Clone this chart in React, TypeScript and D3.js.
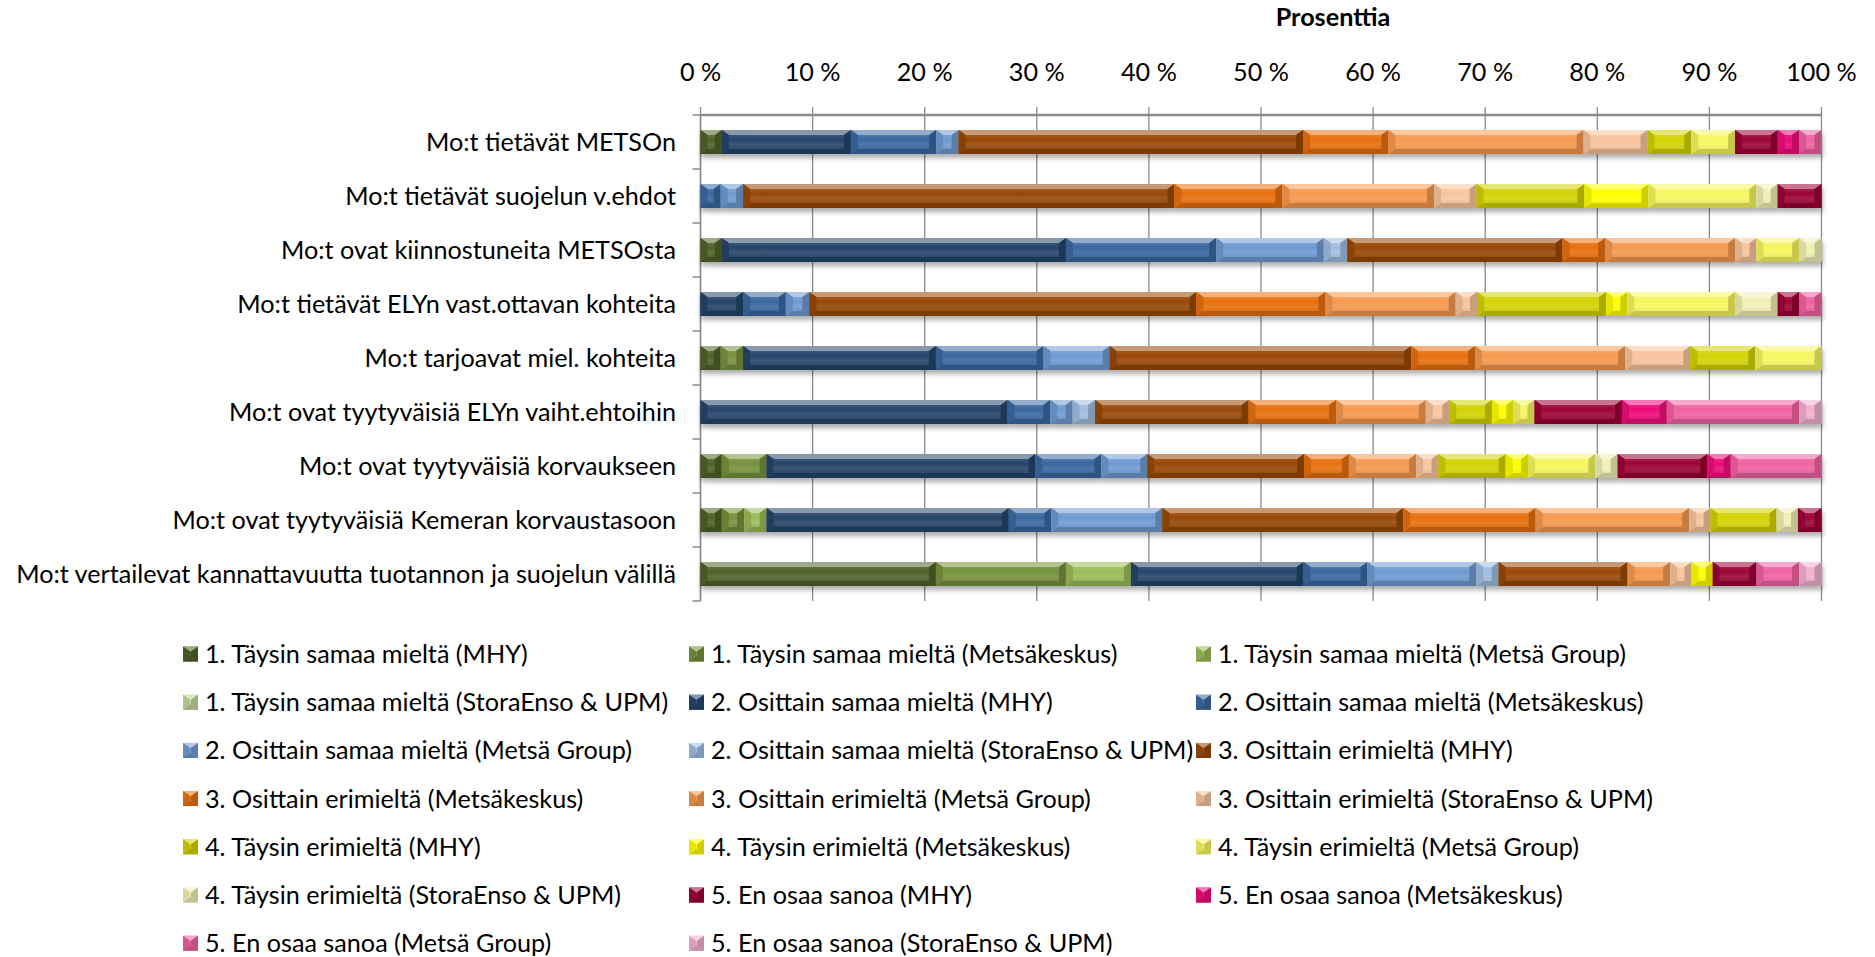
import * as d3 from "d3"
import { useEffect, useRef } from "react"

const categories = [
    "Mo:t tietävät METSOn",
    "Mo:t tietävät suojelun v.ehdot",
    "Mo:t ovat kiinnostuneita METSOsta",
    "Mo:t tietävät ELYn vast.ottavan kohteita",
    "Mo:t tarjoavat miel. kohteita",
    "Mo:t ovat tyytyväisiä ELYn vaiht.ehtoihin",
    "Mo:t ovat tyytyväisiä korvaukseen",
    "Mo:t ovat tyytyväisiä Kemeran korvaustasoon",
    "Mo:t vertailevat kannattavuutta tuotannon ja suojelun välillä",
]

const answers = [
    "1. Täysin samaa mieltä",
    "2. Osittain samaa mieltä",
    "3. Osittain erimieltä",
    "4. Täysin erimieltä",
    "5. En osaa sanoa",
]
const orgs = ["MHY", "Metsäkeskus", "Metsä Group", "StoraEnso & UPM"]

// per answer: one row per organisation (MHY, Metsäkeskus, Metsä Group, StoraEnso & UPM), one value per category
const taysinSamaa = [
    [1.9, 0, 1.9, 0, 1.8, 0, 1.9, 1.9, 21.0],
    [0, 0, 0, 0, 2.0, 0, 4.0, 2.0, 11.6],
    [0, 0, 0, 0, 0, 0, 0, 2.0, 5.8],
    [0, 0, 0, 0, 0, 0, 0, 0, 0],
]
const osittainSamaa = [
    [11.5, 0, 30.7, 3.8, 17.2, 27.4, 24.0, 21.6, 15.4],
    [7.6, 1.8, 13.4, 3.8, 9.6, 3.8, 5.9, 3.8, 5.7],
    [2.0, 2.0, 9.6, 2.1, 5.9, 2.0, 4.1, 9.9, 9.7],
    [0, 0, 2.1, 0, 0, 2.0, 0, 0, 2.0],
]
const osittainEri = [
    [30.7, 38.4, 19.2, 34.5, 26.9, 13.7, 14.0, 21.5, 11.5],
    [7.6, 9.6, 3.8, 11.5, 5.7, 7.8, 4.0, 11.8, 0],
    [17.4, 13.5, 11.6, 11.6, 13.4, 8.0, 6.0, 13.7, 3.8],
    [5.7, 3.8, 1.9, 1.9, 5.8, 2.1, 2.0, 1.9, 1.9],
]
const taysinEri = [
    [3.9, 9.6, 0, 11.5, 5.8, 3.8, 6.0, 5.9, 0],
    [0, 5.7, 0, 1.9, 0, 1.9, 2.0, 0, 1.9],
    [3.9, 9.6, 3.8, 9.6, 5.9, 1.9, 6.0, 0, 0],
    [0, 1.9, 2.0, 3.8, 0, 0, 2.0, 1.9, 0],
]
const enOsaa = [
    [3.8, 3.9, 0, 1.9, 0, 7.8, 8.0, 2.1, 3.9],
    [1.9, 0, 0, 0, 0, 4.0, 2.1, 0, 0],
    [2.0, 0, 0, 2.0, 0, 11.8, 8.1, 0, 3.8],
    [0, 0, 0, 0, 0, 2.0, 0, 0, 2.0],
]

const colors = [
    "#4f6228", "#76923c", "#9bbb59", "#c3d69b",
    "#26446a", "#3a68a0", "#6f9bd2", "#a0bde0",
    "#984807", "#e8700e", "#f5994e", "#f8c49c",
    "#d2d204", "#ffff00", "#f6f660", "#f0f0b4",
    "#9c0436", "#ee0a7a", "#ef62a2", "#f2b0d0",
]

const xTicks = [0, 0.1, 0.2, 0.3, 0.4, 0.5, 0.6, 0.7, 0.8, 0.9, 1]

const width = 1875
const height = 957
const font = "Lato, 'Liberation Sans', sans-serif"
const fontSize = 25.2

type Sel = d3.Selection<SVGGElement, unknown, null, undefined>

function bevelBlock(g: Sel, x: number, y: number, w: number, h: number, color: string, gradId: string) {
    if (w <= 0.5) return
    const bx = Math.min(7, w / 2)
    const by = Math.min(5, h / 2)
    const c = d3.rgb(color)
    const light = d3.interpolateRgb(color, "#ffffff")(0.45)
    const side = d3.interpolateRgb(color, "#000000")(0.1)
    const dark = c.darker(0.6).toString()
    g.append("rect").attr("x", x).attr("y", y).attr("width", w).attr("height", h).attr("fill", `url(#${gradId})`)
    const poly = (pts: number[][], fill: string) =>
        g.append("polygon").attr("points", pts.map((p) => p.join(",")).join(" ")).attr("fill", fill)
    poly([[x, y], [x + w, y], [x + w - bx, y + by], [x + bx, y + by]], light)
    poly([[x, y + h], [x + w, y + h], [x + w - bx, y + h - by], [x + bx, y + h - by]], dark)
    poly([[x, y], [x + bx, y + by], [x + bx, y + h - by], [x, y + h]], side)
    poly([[x + w, y], [x + w - bx, y + by], [x + w - bx, y + h - by], [x + w, y + h]], dark)
}

export default function App() {
    const ref = useRef<SVGSVGElement | null>(null)

    useEffect(() => {
        const svg = d3.select(ref.current)
        svg.selectAll("*").remove()

        const groups = [taysinSamaa, osittainSamaa, osittainEri, taysinEri, enOsaa]
        const keys: string[] = []
        answers.forEach((a) => orgs.forEach((o) => keys.push(`${a} (${o})`)))
        const rows = categories.map((cat, ci) => {
            const r: Record<string, number | string> = { cat }
            groups.forEach((grp, gi) => grp.forEach((vals, oi) => (r[keys[gi * 4 + oi]] = vals[ci])))
            return r
        })

        const stacked = d3.stack<Record<string, number | string>>()
            .keys(keys)
            .value((d, k) => d[k] as number)
            .offset(d3.stackOffsetExpand)(rows)

        const x = d3.scaleLinear().domain([0, 1]).range([700.5, 1821.5])
        const y = d3.scaleBand<string>().domain(categories).range([115, 601]).paddingInner(0.556).paddingOuter(0.278)

        const defs = svg.append("defs")
        const shadow = defs.append("filter").attr("id", "shadow").attr("x", "-5%").attr("y", "-50%").attr("width", "110%").attr("height", "220%")
        shadow.append("feDropShadow").attr("dx", 1).attr("dy", 4).attr("stdDeviation", 2.5)
            .attr("flood-color", "#000").attr("flood-opacity", 0.32)
        colors.forEach((col, i) => {
            const gr = defs.append("linearGradient").attr("id", `g${i}`).attr("x1", 0).attr("y1", 0).attr("x2", 0).attr("y2", 1)
            gr.append("stop").attr("offset", "0%").attr("stop-color", d3.interpolateRgb(col, "#fff")(0.2))
            gr.append("stop").attr("offset", "40%").attr("stop-color", col)
            gr.append("stop").attr("offset", "60%").attr("stop-color", d3.interpolateRgb(col, "#fff")(0.1))
            gr.append("stop").attr("offset", "100%").attr("stop-color", d3.interpolateRgb(col, "#000")(0.1))
        })

        // gridlines + top axis
        const grid = svg.append("g")
        grid.selectAll("line.grid").data(xTicks).join("line")
            .attr("x1", (d) => x(d)).attr("x2", (d) => x(d))
            .attr("y1", 107).attr("y2", 601)
            .attr("stroke", "#8a8a8a").attr("stroke-width", 1.3)
        grid.append("line").attr("x1", x(0)).attr("x2", x(1)).attr("y1", 115).attr("y2", 115)
            .attr("stroke", "#8a8a8a").attr("stroke-width", 2.5)
        grid.append("line").attr("x1", x(0)).attr("x2", x(0)).attr("y1", 115).attr("y2", 601)
            .attr("stroke", "#8a8a8a").attr("stroke-width", 1.5)
        const yTickPos = categories.map((c) => (y(c) as number) - (y.step() - y.bandwidth()) / 2)
        yTickPos.push(601)
        grid.selectAll("line.yt").data(yTickPos).join("line")
            .attr("x1", x(0) - 8).attr("x2", x(0)).attr("y1", (d) => d).attr("y2", (d) => d)
            .attr("stroke", "#8a8a8a").attr("stroke-width", 1.5)

        svg.append("g").selectAll("text").data(xTicks).join("text")
            .attr("x", (d) => x(d)).attr("y", 81)
            .attr("text-anchor", "middle")
            .attr("font-family", font).attr("font-size", fontSize).attr("fill", "#000")
            .text((d) => `${Math.round(d * 100)} %`)

        svg.append("text").attr("x", 1333).attr("y", 26)
            .attr("text-anchor", "middle").attr("font-family", font).attr("font-weight", "bold")
            .attr("font-size", fontSize).text("Prosenttia")

        svg.append("g").selectAll("text").data(categories).join("text")
            .attr("x", 676).attr("y", (d) => (y(d) as number) + y.bandwidth() / 2)
            .attr("dy", "0.36em").attr("text-anchor", "end")
            .attr("font-family", font).attr("font-size", fontSize).text((d) => d)

        // bars
        const bars = svg.append("g")
        categories.forEach((cat, ci) => {
            const row = bars.append("g").attr("filter", "url(#shadow)")
            stacked.forEach((s, si) => {
                const [a, b] = s[ci]
                bevelBlock(row, x(a), y(cat) as number, x(b) - x(a), y.bandwidth(), colors[si], `g${si}`)
            })
        })

        // legend
        const legend = svg.append("g")
        const colX = [183, 689, 1196]
        keys.forEach((k, i) => {
            const cx = colX[i % 3]
            const cy = 654 + Math.floor(i / 3) * 48.2
            const item = legend.append("g")
            bevelBlock(item, cx, cy - 7.5, 15, 15, colors[i], `g${i}`)
            legend.append("text").attr("x", cx + 22).attr("y", cy).attr("dy", "0.36em")
                .attr("font-family", font).attr("font-size", fontSize).text(k)
        })
    }, [])

    return <svg ref={ref} width={width} height={height} style={{ position: "absolute", left: 0, top: 0 }} />
}
